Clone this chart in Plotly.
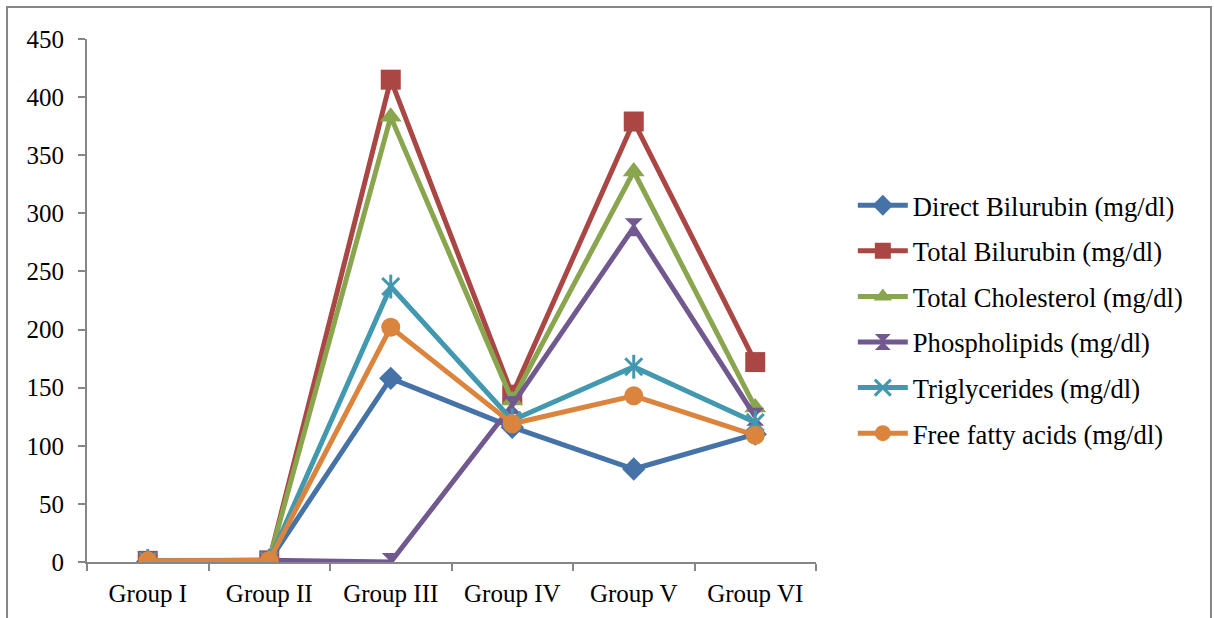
import plotly.graph_objects as go

groups = ["Group I", "Group II", "Group III", "Group IV", "Group V", "Group VI"]

direct_bilirubin = [0.4, 0.8, 158, 116, 80, 110]
total_bilirubin = [1.0, 1.4, 415, 144, 379, 172]
total_cholesterol = [1.2, 1.6, 383, 139, 336, 133]
phospholipids = [0.8, 1.5, 0.0, 135, 288, 125]
triglycerides = [0.9, 1.2, 237, 122, 168, 120]
free_fatty_acids = [1.1, 1.3, 202, 119, 143, 109]

series = [
    ("Direct Bilurubin (mg/dl)", direct_bilirubin, "#4572A7", "diamond", 18),
    ("Total Bilurubin (mg/dl)", total_bilirubin, "#AA4643", "square", 20),
    ("Total Cholesterol (mg/dl)", total_cholesterol, "#89A54E", "triangle-up", 19),
    ("Phospholipids (mg/dl)", phospholipids, "#71588F", "hourglass", 18),
    ("Triglycerides (mg/dl)", triglycerides, "#4198AF", "x-thin-open", 17),
    ("Free fatty acids (mg/dl)", free_fatty_acids, "#DB843D", "circle", 19),
]

FONT = "Liberation Serif"
AXIS_GREY = "#868686"

fig = go.Figure()
for name, vals, color, symbol, size in series:
    is_open = "open" in symbol
    fig.add_trace(go.Scatter(
        x=groups, y=vals, name=name, mode="lines+markers",
        legendgroup=name,
        line=dict(color=color, width=5),
        marker=dict(symbol=symbol, size=size, color=color,
                    line=dict(color=color, width=3 if is_open else 0)),
    ))
    if is_open:
        # star marker: the x gets a vertical stroke through its centre
        fig.add_trace(go.Scatter(
            x=groups, y=vals, mode="markers", legendgroup=name,
            showlegend=False, hoverinfo="skip",
            marker=dict(symbol="line-ns-open", size=size, color=color,
                        line=dict(color=color, width=3)),
        ))

fig.update_layout(
    width=1214, height=618,
    margin=dict(l=87, r=398, t=39, b=56),
    paper_bgcolor="white", plot_bgcolor="white",
    font=dict(family=FONT, size=25, color="black"),
    showlegend=True,
    legend=dict(x=1.0505, y=0.4637, xanchor="left", yanchor="middle",
                font=dict(family=FONT, size=26.6, color="black"),
                tracegroupgap=8, itemwidth=50, bgcolor="rgba(0,0,0,0)"),
    xaxis=dict(type="category", range=[-0.5, 5.5], showgrid=False,
               showline=True, linecolor=AXIS_GREY, linewidth=2,
               ticks="outside", tickson="boundaries", ticklen=7,
               tickcolor=AXIS_GREY, tickwidth=2, ticklabelstandoff=8,
               tickfont=dict(family=FONT, size=25, color="black"),
               zeroline=False),
    yaxis=dict(range=[0, 450], dtick=50, showgrid=False,
               showline=True, linecolor=AXIS_GREY, linewidth=2,
               ticks="outside", ticklen=7, tickcolor=AXIS_GREY, tickwidth=2,
               ticklabelstandoff=9,
               tickfont=dict(family=FONT, size=25, color="black"),
               zeroline=False),
    shapes=[dict(type="rect", xref="paper", yref="paper",
                 x0=-0.1097, x1=1.5418, y0=-0.2, y1=1.0612,
                 line=dict(color=AXIS_GREY, width=2), layer="below")],
)

fig.write_html("out.html")
